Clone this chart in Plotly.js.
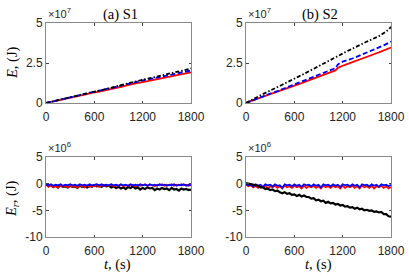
<!DOCTYPE html>
<html><head><meta charset="utf-8">
<script src="https://cdn.plot.ly/plotly-3.0.1.min.js"></script>
<style>html,body{margin:0;padding:0;background:#fff}#chart{width:409px;height:279px}</style>
</head><body><div id="chart"></div>
<script>
// time axis (s), sampled every 30 s
const t = [];
for (let i = 0; i <= 60; i++) t.push(i * 30);

// (a) S1 : E in units of 1e7 J
const E_S1_black = [0,0.03,0.07,0.11,0.14,0.18,0.22,0.25,0.29,0.32,
 0.36,0.39,0.43,0.46,0.50,0.53,0.57,0.61,0.65,0.69,
 0.71,0.74,0.77,0.80,0.84,0.88,0.92,0.96,1.00,1.04,
 1.08,1.12,1.16,1.20,1.24,1.29,1.34,1.37,1.40,1.42,
 1.45,1.48,1.51,1.55,1.58,1.62,1.65,1.69,1.72,1.76,
 1.80,1.83,1.86,1.90,1.93,1.97,2.00,2.04,2.08,2.12,2.16];
const E_S1_blue = [0,0.03,0.07,0.10,0.14,0.17,0.21,0.24,0.28,0.31,
 0.35,0.38,0.42,0.45,0.49,0.52,0.56,0.60,0.64,0.67,
 0.69,0.72,0.75,0.78,0.82,0.86,0.90,0.94,0.97,1.01,
 1.05,1.09,1.13,1.17,1.21,1.26,1.30,1.33,1.36,1.38,
 1.41,1.44,1.47,1.50,1.53,1.56,1.59,1.63,1.66,1.69,
 1.72,1.75,1.78,1.81,1.84,1.87,1.90,1.94,1.97,2.00,2.03];
const E_S1_red = [0,0.03,0.07,0.10,0.13,0.17,0.20,0.23,0.27,0.30,
 0.33,0.36,0.40,0.43,0.46,0.49,0.53,0.57,0.61,0.64,
 0.66,0.68,0.71,0.73,0.76,0.79,0.82,0.85,0.88,0.92,
 0.96,1.00,1.04,1.08,1.12,1.17,1.22,1.24,1.26,1.28,
 1.31,1.34,1.37,1.40,1.43,1.46,1.49,1.52,1.55,1.58,
 1.61,1.64,1.67,1.70,1.73,1.76,1.79,1.82,1.85,1.88,1.92];

// (b) S2 : E in units of 1e7 J
const E_S2_black = [0,0.07,0.15,0.24,0.32,0.40,0.48,0.56,0.64,0.72,
 0.79,0.86,0.93,1.00,1.07,1.14,1.21,1.28,1.35,1.42,
 1.50,1.58,1.66,1.74,1.82,1.90,1.98,2.06,2.14,2.22,
 2.30,2.38,2.46,2.54,2.62,2.70,2.80,2.90,2.98,3.05,
 3.12,3.18,3.25,3.32,3.40,3.48,3.56,3.63,3.70,3.77,
 3.84,3.90,3.96,4.03,4.10,4.18,4.27,4.37,4.47,4.58,4.76];
const E_S2_blue = [0,0.06,0.13,0.20,0.27,0.33,0.38,0.43,0.48,0.53,
 0.58,0.63,0.68,0.74,0.80,0.86,0.92,0.98,1.04,1.10,
 1.16,1.22,1.28,1.34,1.40,1.46,1.52,1.58,1.64,1.70,
 1.76,1.82,1.88,1.94,2.00,2.06,2.12,2.18,2.40,2.52,
 2.58,2.62,2.66,2.72,2.78,2.84,2.90,2.96,3.02,3.08,
 3.14,3.20,3.26,3.32,3.38,3.44,3.52,3.60,3.68,3.76,3.84];
const E_S2_red = [0,0.06,0.13,0.20,0.27,0.32,0.36,0.40,0.45,0.50,
 0.55,0.60,0.65,0.70,0.75,0.80,0.86,0.92,0.98,1.04,
 1.09,1.14,1.19,1.24,1.30,1.36,1.42,1.48,1.54,1.59,
 1.64,1.69,1.74,1.80,1.86,1.92,1.98,2.04,2.20,2.28,
 2.33,2.38,2.44,2.50,2.56,2.62,2.68,2.74,2.80,2.86,
 2.91,2.96,3.01,3.06,3.11,3.16,3.22,3.28,3.34,3.40,3.46];

// Er in units of 1e6 J
const Er_S1_red = [-0.2,-0.6,-0.3,-0.7,-0.4,-0.8,-0.3,-0.6,-0.4,-0.7,
 -0.3,-0.6,-0.4,-0.8,-0.3,-0.5,-0.7,-0.3,-0.6,-0.4,
 -0.5,-0.3,-0.6,-0.2,-0.5,-0.3,-0.4,-0.2,-0.5,-0.3,
 -0.4,-0.2,-0.5,-0.3,-0.4,-0.2,-0.3,-0.5,-0.2,-0.4,
 -0.3,-0.1,-0.4,-0.2,-0.3,-0.5,-0.2,-0.3,-0.1,-0.4,
 -0.2,-0.3,-0.1,-0.4,-0.2,-0.3,-0.1,-0.3,-0.2,-0.4,-0.2];
const Er_S1_blue = [-0.1,-0.3,-0.1,-0.4,-0.2,-0.3,-0.1,-0.4,-0.2,-0.3,
 -0.1,-0.3,-0.2,-0.4,-0.1,-0.3,-0.2,-0.4,-0.1,-0.3,
 -0.2,-0.1,-0.3,-0.1,-0.4,-0.2,-0.3,-0.1,-0.3,-0.2,
 -0.4,-0.1,-0.3,-0.2,-0.4,-0.1,-0.3,-0.2,-0.4,-0.1,
 -0.3,-0.2,-0.4,-0.1,-0.3,-0.2,-0.4,-0.1,-0.3,-0.2,
 -0.4,-0.2,-0.3,-0.1,-0.4,-0.2,-0.3,-0.1,-0.4,-0.2,-0.3];
const Er_S1_black = [-0.1,-0.4,-0.3,-0.6,-0.4,-0.7,-0.3,-0.6,-0.5,-0.7,
 -0.4,-0.6,-0.5,-0.8,-0.4,-0.6,-0.5,-0.7,-0.4,-0.6,
 -0.3,-0.5,-0.4,-0.6,-0.3,-0.5,-0.4,-0.7,-0.5,-0.8,
 -0.6,-0.9,-0.7,-1.0,-0.6,-0.8,-0.5,-0.9,-0.7,-1.1,
 -0.8,-1.0,-0.7,-0.9,-0.8,-1.2,-0.9,-1.1,-0.8,-1.0,
 -0.9,-1.2,-0.8,-1.1,-1.0,-1.3,-0.9,-1.1,-1.0,-1.2,-1.1];
const Er_S2_red = [-0.2,-0.5,-0.3,-0.7,-0.4,-0.8,-0.5,-0.7,-0.4,-0.9,
 -0.5,-0.7,-0.4,-0.8,-0.5,-0.9,-0.4,-0.7,-0.5,-0.8,
 -0.4,-0.7,-0.5,-0.9,-0.4,-0.8,-0.5,-0.7,-0.4,-0.8,
 -0.5,-0.9,-0.4,-0.7,-0.5,-0.8,-0.4,-0.7,-0.5,-0.9,
 -0.4,-0.8,-0.5,-0.7,-0.4,-0.8,-0.5,-0.9,-0.4,-0.7,
 -0.5,-0.8,-0.4,-0.9,-0.5,-0.7,-0.4,-0.8,-0.5,-0.9,-0.6];
const Er_S2_blue = [-0.1,-0.3,-0.2,-0.5,-0.1,-0.4,-0.2,-0.6,-0.1,-0.3,
 -0.2,-0.5,-0.1,-0.4,-0.3,-0.8,-0.1,-0.3,-0.2,-0.5,
 -0.1,-0.4,-0.2,-0.6,-0.1,-0.3,-0.2,-0.5,-0.1,-0.4,
 -0.2,-0.7,-0.1,-0.3,-0.2,-0.5,-0.1,-0.4,-0.2,-0.6,
 -0.1,-0.3,-0.2,-0.5,-0.1,-0.4,-0.2,-0.7,-0.1,-0.3,
 -0.2,-0.5,-0.1,-0.4,-0.2,-0.6,-0.1,-0.3,-0.2,-0.5,-0.2];
const Er_S2_black = [0.1,0.0,-0.1,-0.2,-0.4,-0.4,-0.7,-0.7,-1.0,-0.9,
 -1.2,-1.1,-1.4,-1.3,-1.6,-1.8,-1.6,-1.9,-1.8,-2.1,
 -2.0,-2.3,-2.1,-2.4,-2.2,-2.5,-2.5,-2.8,-2.7,-3.1,
 -3.0,-3.3,-3.2,-3.6,-3.4,-3.7,-3.6,-3.9,-3.8,-4.1,
 -4.0,-4.3,-4.2,-4.5,-4.4,-4.7,-4.5,-4.8,-4.7,-5.0,
 -4.9,-5.1,-5.0,-5.3,-5.2,-5.4,-5.3,-5.7,-5.7,-6.1,-6.2];

const xTicks = [0, 600, 1200, 1800];
const yTicksE = [0, 2.5, 5];
const yTicksEr = [-10, -5, 0, 5];
const panelTitles = ['(a) S1', '(b) S2'];

const RED = '#ff0000', BLUE = '#0000ff', BLACK = '#000000';
const DASHDOT = '4px,2px,1.5px,2px', DASH = '5px,2.5px';
function ln(x, y, xa, ya, color, dash, w) {
  return {x: x, y: y, xaxis: xa, yaxis: ya, type: 'scatter', mode: 'lines',
          line: {color: color, dash: dash, width: w}, hoverinfo: 'skip', showlegend: false};
}
const data = [
  ln(t, E_S1_red, 'x', 'y', RED, 'solid', 1.8),
  ln(t, E_S1_blue, 'x', 'y', BLUE, DASH, 1.8),
  ln(t, E_S1_black, 'x', 'y', BLACK, DASHDOT, 1.8),
  ln(t, E_S2_red, 'x2', 'y2', RED, 'solid', 1.8),
  ln(t, E_S2_blue, 'x2', 'y2', BLUE, DASH, 1.8),
  ln(t, E_S2_black, 'x2', 'y2', BLACK, DASHDOT, 1.8),
  ln(t, Er_S1_black, 'x3', 'y3', BLACK, 'solid', 2.2),
  ln(t, Er_S1_red, 'x3', 'y3', RED, 'solid', 1.7),
  ln(t, Er_S1_blue, 'x3', 'y3', BLUE, 'solid', 1.7),
  ln(t, Er_S2_red, 'x4', 'y4', RED, 'solid', 1.7),
  ln(t, Er_S2_blue, 'x4', 'y4', BLUE, 'solid', 1.7),
  ln(t, Er_S2_black, 'x4', 'y4', BLACK, 'solid', 2.2)
];

const W = 409, H = 279;
const xdL = [46 / W, 191 / W], xdR = [246 / W, 391 / W];
const ydT = [(H - 103) / H, (H - 23) / H], ydB = [(H - 237) / H, (H - 157) / H];
const tickFont = {family: 'Liberation Sans, Arial, sans-serif', size: 12, color: '#262626'};
const expFont = {family: 'Liberation Sans, Arial, sans-serif', size: 11, color: '#262626'};
const serif = 'Liberation Serif, Times New Roman, serif';
const labFont = {family: serif, size: 14.5, color: '#000'};

function xax(dom, anchor) {
  return {domain: dom, anchor: anchor, range: [0, 1800], tickvals: xTicks,
    ticktext: xTicks.map(String), ticks: 'inside', ticklen: 2.5, tickcolor: '#444',
    showline: true, linecolor: '#8a8a8a', linewidth: 1, mirror: 'allticks',
    showgrid: false, zeroline: false, tickfont: tickFont, ticklabelstandoff: 3, fixedrange: true};
}
function yax(dom, anchor, range, ticks) {
  return {domain: dom, anchor: anchor, range: range, tickvals: ticks,
    ticktext: ticks.map(String), ticks: 'inside', ticklen: 2.5, tickcolor: '#444',
    showline: true, linecolor: '#8a8a8a', linewidth: 1, mirror: 'allticks',
    showgrid: false, zeroline: false, tickfont: tickFont, fixedrange: true};
}

const layout = {
  width: W, height: H, margin: {l: 0, r: 0, t: 0, b: 0},
  paper_bgcolor: '#fff', plot_bgcolor: '#fff', showlegend: false,
  xaxis: xax(xdL, 'y'), yaxis: yax(ydT, 'x', [0, 5], yTicksE),
  xaxis2: xax(xdR, 'y2'), yaxis2: yax(ydT, 'x2', [0, 5], yTicksE),
  xaxis3: xax(xdL, 'y3'), yaxis3: yax(ydB, 'x3', [-10, 5], yTicksEr),
  xaxis4: xax(xdR, 'y4'), yaxis4: yax(ydB, 'x4', [-10, 5], yTicksEr),
  annotations: [
    {text: panelTitles[0], x: 120 / W, y: 1 - 14 / H, xref: 'paper', yref: 'paper', showarrow: false,
     xanchor: 'center', yanchor: 'middle', font: labFont},
    {text: panelTitles[1], x: 320 / W, y: 1 - 14 / H, xref: 'paper', yref: 'paper', showarrow: false,
     xanchor: 'center', yanchor: 'middle', font: labFont},
    {text: '×10<sup>7</sup>', x: 46 / W, y: 1 - 22 / H, xref: 'paper', yref: 'paper', showarrow: false,
     xanchor: 'left', yanchor: 'bottom', font: expFont},
    {text: '×10<sup>7</sup>', x: 246 / W, y: 1 - 22 / H, xref: 'paper', yref: 'paper', showarrow: false,
     xanchor: 'left', yanchor: 'bottom', font: expFont},
    {text: '×10<sup>6</sup>', x: 46 / W, y: 1 - 156 / H, xref: 'paper', yref: 'paper', showarrow: false,
     xanchor: 'left', yanchor: 'bottom', font: expFont},
    {text: '×10<sup>6</sup>', x: 246 / W, y: 1 - 156 / H, xref: 'paper', yref: 'paper', showarrow: false,
     xanchor: 'left', yanchor: 'bottom', font: expFont},
    {text: '<i>E</i>, (J)', x: 12 / W, y: 1 - 63 / H, xref: 'paper', yref: 'paper', showarrow: false,
     textangle: -90, xanchor: 'center', yanchor: 'middle', font: labFont},
    {text: '<i>E<sub>r</sub></i>, (J)', x: 12 / W, y: 1 - 199 / H, xref: 'paper', yref: 'paper', showarrow: false,
     textangle: -90, xanchor: 'center', yanchor: 'middle', font: labFont},
    {text: '<i>t</i>, (s)', x: 117 / W, y: 1 - 264 / H, xref: 'paper', yref: 'paper', showarrow: false,
     xanchor: 'center', yanchor: 'middle', font: labFont},
    {text: '<i>t</i>, (s)', x: 318 / W, y: 1 - 264 / H, xref: 'paper', yref: 'paper', showarrow: false,
     xanchor: 'center', yanchor: 'middle', font: labFont}
  ]
};
Plotly.newPlot('chart', data, layout, {staticPlot: true, displayModeBar: false});
</script></body></html>
